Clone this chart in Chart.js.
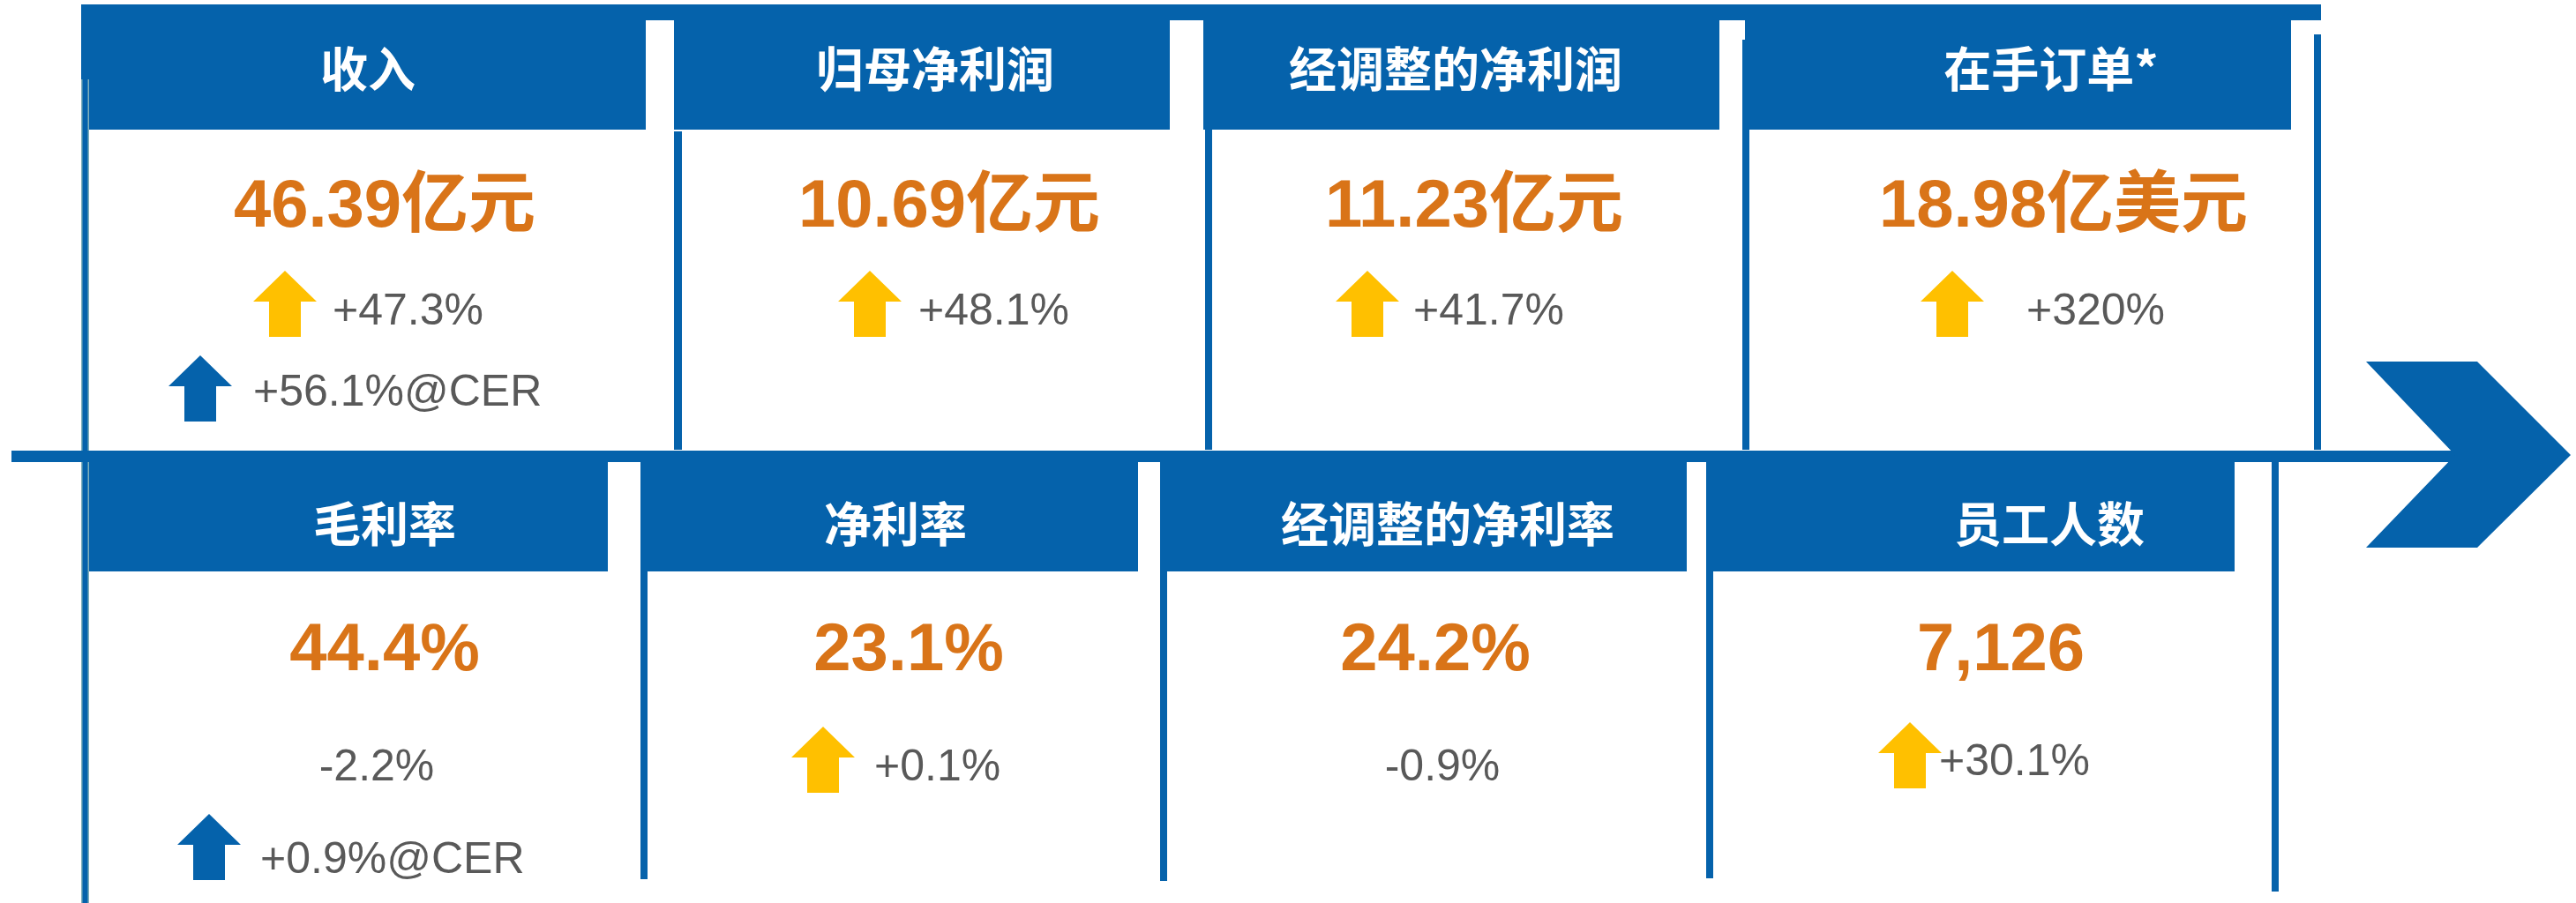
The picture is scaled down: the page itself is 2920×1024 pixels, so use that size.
<!DOCTYPE html>
<html>
<head>
<meta charset="utf-8">
<script src="https://cdn.jsdelivr.net/npm/chart.js@4.4.1/dist/chart.umd.min.js"></script>
<style>
  html, body { margin: 0; padding: 0; background: #ffffff; }
  canvas { display: block; }
</style>
</head>
<body>
<canvas id="myChart" width="2920" height="1024"></canvas>
<script>
// values
const topTitles = ['收入', '归母净利润', '经调整的净利润', '在手订单*']
const topValues = ['46.39亿元', '10.69亿元', '11.23亿元', '18.98亿美元']
const topChanges = ['+47.3%', '+48.1%', '+41.7%', '+320%']
const topCer = ['+56.1%@CER', null, null, null]

const bottomTitles = ['毛利率', '净利率', '经调整的净利率', '员工人数']
const bottomValues = ['44.4%', '23.1%', '24.2%', '7,126']
const bottomChanges = ['-2.2%', '+0.1%', '-0.9%', '+30.1%']
const bottomCer = ['+0.9%@CER', null, null, null]

// layout (in canvas units of the 2920 x 1024 scales)
const BLUE = '#0562ab'
const ORANGE = '#d97418'
const GREY = '#595959'
const YELLOW = '#ffc000'

const rows = [
    {
        titles: topTitles, values: topValues, changes: topChanges, cer: topCer,
        headTop: 23, headBottom: 147, titleY: 78, valueY: 257,
        arrowTip: 307, changeY: 368, cerTip: 403, cerY: 460,
        cards: [
            { head: [92, 732], titleX: 417, valueX: 436, arrowX: 323, textX: 377, cerArrowX: 227, cerTextX: 287 },
            { head: [764, 1326], titleX: 1060, valueX: 1076, arrowX: 986, textX: 1041 },
            { head: [1364, 1949], titleX: 1650, valueX: 1671, arrowX: 1550, textX: 1602 },
            { head: [1978, 2597], titleX: 2325, valueX: 2339, arrowX: 2213, textX: 2297 },
        ],
    },
    {
        titles: bottomTitles, values: bottomValues, changes: bottomChanges, cer: bottomCer,
        headTop: 524, headBottom: 648, titleY: 594, valueY: 760,
        arrowTip: 824, changeY: 885, cerTip: 923, cerY: 990,
        cards: [
            { head: [92, 689], titleX: 436, valueX: 436, textX: 427, cerArrowX: 237, cerTextX: 295 },
            { head: [726, 1290], titleX: 1015, valueX: 1030, arrowX: 933, textX: 991 },
            { head: [1315, 1912], titleX: 1641, valueX: 1627, textX: 1635 },
            { head: [1934, 2533], titleX: 2323, valueX: 2268, arrowX: 2165, textX: 2198, arrowTip: 819, changeY: 879 },
        ],
    },
]

const topBand = [92, 2631, 5, 23]
const axisLine = [13, 2785, 511, 524]
const dividers = [
    [764, 773, 149, 510],
    [1366, 1374, 147, 510],
    [1975, 1983, 45, 510],
    [2623, 2631, 39, 510],
    [726, 734, 524, 997],
    [1315, 1323, 524, 999],
    [1934, 1942, 524, 996],
    [2575, 2583, 524, 1011],
]
const leftLine = [92, 101, 90, 1024]
const chevron = [[2682, 410], [2808, 410], [2914, 516], [2808, 621], [2682, 621], [2783, 516]]

const infographic = {
    id: 'infographic',
    afterDraw(chart) {
        const ctx = chart.ctx
        const sx = chart.scales.x
        const sy = chart.scales.y
        const X = (v) => sx.getPixelForValue(v)
        const Y = (v) => sy.getPixelForValue(v)

        const rect = (x0, x1, y0, y1, color) => {
            ctx.fillStyle = color
            ctx.fillRect(X(x0), Y(y0), X(x1) - X(x0), Y(y1) - Y(y0))
        }
        const arrow = (cx, tip, color) => {
            ctx.fillStyle = color
            ctx.beginPath()
            ctx.moveTo(X(cx), Y(tip))
            ctx.lineTo(X(cx + 36), Y(tip + 35))
            ctx.lineTo(X(cx + 18), Y(tip + 35))
            ctx.lineTo(X(cx + 18), Y(tip + 75))
            ctx.lineTo(X(cx - 18), Y(tip + 75))
            ctx.lineTo(X(cx - 18), Y(tip + 35))
            ctx.lineTo(X(cx - 36), Y(tip + 35))
            ctx.closePath()
            ctx.fill()
        }

        ctx.save()

        // header boxes and top band
        rows.forEach((row) => {
            row.cards.forEach((c) => rect(c.head[0], c.head[1], row.headTop, row.headBottom, BLUE))
        })
        rect(topBand[0], topBand[1], topBand[2], topBand[3], BLUE)

        // card dividers
        dividers.forEach((d) => rect(d[0], d[1], d[2], d[3], BLUE))
        rect(leftLine[0], leftLine[1], leftLine[2], leftLine[3], BLUE)
        ctx.fillStyle = '#7fb0bc'
        ctx.fillRect(X(leftLine[0]), Y(leftLine[2]), 1.5, Y(leftLine[3]) - Y(leftLine[2]))
        ctx.fillRect(X(leftLine[1]) - 1.5, Y(leftLine[2]), 1.5, Y(leftLine[3]) - Y(leftLine[2]))

        // time axis and chevron
        rect(axisLine[0], axisLine[1], axisLine[2], axisLine[3], BLUE)
        ctx.fillStyle = BLUE
        ctx.beginPath()
        chevron.forEach((p, i) => (i ? ctx.lineTo(X(p[0]), Y(p[1])) : ctx.moveTo(X(p[0]), Y(p[1]))))
        ctx.closePath()
        ctx.fill()

        // texts
        rows.forEach((row) => {
            row.cards.forEach((c, i) => {
                ctx.textAlign = 'center'
                ctx.textBaseline = 'middle'
                ctx.fillStyle = '#ffffff'
                ctx.font = 'bold 54px "Noto Sans CJK SC", "Liberation Sans", sans-serif'
                ctx.fillText(row.titles[i], X(c.titleX), Y(row.titleY))

                ctx.textBaseline = 'alphabetic'
                ctx.fillStyle = ORANGE
                ctx.font = 'bold 76px "Liberation Sans", "Noto Sans CJK SC", sans-serif'
                ctx.fillText(row.values[i], X(c.valueX), Y(row.valueY))

                const change = row.changes[i]
                const tip = c.arrowTip || row.arrowTip
                const cy = c.changeY || row.changeY
                ctx.fillStyle = GREY
                ctx.font = '50px "Liberation Sans", sans-serif'
                if (change.startsWith('+')) {
                    arrow(c.arrowX, tip, YELLOW)
                    ctx.fillStyle = GREY
                    ctx.textAlign = 'left'
                    ctx.fillText(change, X(c.textX), Y(cy))
                } else {
                    ctx.textAlign = 'center'
                    ctx.fillText(change, X(c.textX), Y(cy))
                }

                const cer = row.cer[i]
                if (cer) {
                    arrow(c.cerArrowX, row.cerTip, BLUE)
                    ctx.fillStyle = GREY
                    ctx.textAlign = 'left'
                    ctx.fillText(cer, X(c.cerTextX), Y(row.cerY))
                }
            })
        })

        ctx.restore()
    },
}

const ctx = document.getElementById('myChart')
const chart = new Chart(ctx, {
    type: 'scatter',
    data: {
        datasets: rows.map((row, r) => ({
            label: r ? 'bottom' : 'top',
            data: row.cards.map((c) => ({ x: c.valueX, y: row.valueY })),
            pointRadius: 0,
        })),
    },
    options: {
        responsive: false,
        maintainAspectRatio: false,
        devicePixelRatio: 1,
        animation: false,
        layout: { padding: 0 },
        scales: {
            x: { type: 'linear', min: 0, max: 2920, display: false },
            y: { type: 'linear', min: 0, max: 1024, reverse: true, display: false },
        },
        plugins: {
            legend: { display: false },
            tooltip: { enabled: false },
        },
    },
    plugins: [infographic],
})
</script>
</body>
</html>
